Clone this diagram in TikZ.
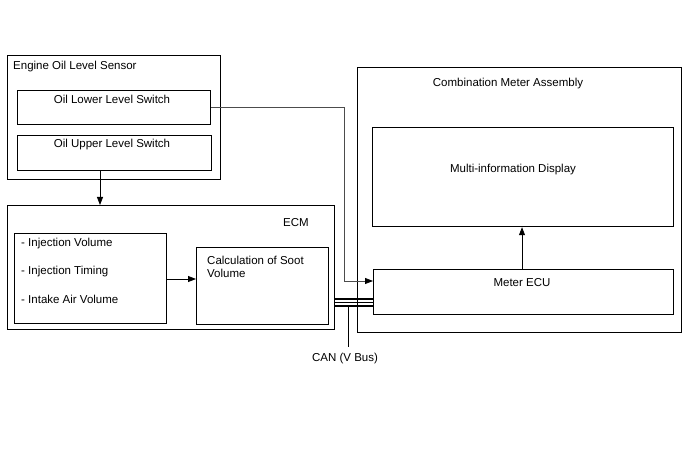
\documentclass[tikz,border=0pt]{standalone}
\usepackage{fontspec}
\setmainfont{Liberation Sans}
\usetikzlibrary{arrows.meta}
\begin{document}
\begin{tikzpicture}[x=1bp,y=-1bp,
  box/.style={draw=black, line width=1.2bp, inner sep=0pt, anchor=north west},
  txt/.style={inner sep=0pt, font=\fontsize{11.5bp}{14bp}\selectfont},
  sig/.style={draw=black!70, line width=0.8bp},
  tip/.style={-{Triangle[length=8bp,width=6bp,fill=black,color=black]}},
  arr/.style={draw=black, line width=0.8bp, tip},
  bus/.style={draw=black, line width=1.2bp}]
\useasboundingbox (0,0) rectangle (688,463);
% Engine oil level sensor
\node[box, minimum width=213bp, minimum height=124bp] (sensor) at (7,55) {};
\node[txt, anchor=west] (sensorl) at (13,67) {Engine Oil Level Sensor};
\node[box, minimum width=193bp, minimum height=34bp] (lower) at (17,90) {};
\node[txt] (lowerl) at (112,99.5) {Oil Lower Level Switch};
\node[box, minimum width=194bp, minimum height=35bp] (upper) at (17,135) {};
\node[txt] (upperl) at (112,144.5) {Oil Upper Level Switch};
% ECM
\node[box, minimum width=327bp, minimum height=124bp] (ecm) at (7,205) {};
\node[txt] (ecml) at (296,223) {ECM};
\node[box, minimum width=152bp, minimum height=90bp] (inputs) at (14,233) {};
\node[txt, anchor=west] (in1) at (21,243.5) {- Injection Volume};
\node[txt, anchor=west] (in2) at (21,272) {- Injection Timing};
\node[txt, anchor=west] (in3) at (21,299.5) {- Intake Air Volume};
\node[box, minimum width=132bp, minimum height=77bp] (calc) at (196,247) {};
\node[txt, anchor=west] (calc1) at (207,260.5) {Calculation of Soot};
\node[txt, anchor=west] (calc2) at (207,273.5) {Volume};
% Combination meter
\node[box, minimum width=324bp, minimum height=265bp] (meter) at (357,67) {};
\node[txt] (meterl) at (508,83.5) {Combination Meter Assembly};
\node[box, minimum width=301bp, minimum height=99bp] (mid) at (372,127) {};
\node[txt] (midl) at (513,169.5) {Multi-information Display};
\node[box, minimum width=300bp, minimum height=45bp] (ecu) at (373,269) {};
\node[txt] (ecul) at (522,282.5) {Meter ECU};
% connectors
\coordinate (c1) at (344,107);
\coordinate (c2) at (344,281);
\draw[sig, tip] (lower.east |- c1) -- (c1) -- (c2) -- (c2 -| ecu.west);
\draw[arr] (upper.south -| 100,0) -- (ecm.north -| 100,0);
\draw[arr] (inputs.east |- 0,279) -- (calc.west |- 0,279);
\draw[arr] (ecu.north -| 522,0) -- (mid.south -| 522,0);
% CAN bus
\draw[bus] (ecm.east |- 0,299) -- (ecu.west |- 0,299);
\draw[bus, line width=0.6bp] (ecm.east |- 0,302.5) -- (ecu.west |- 0,302.5);
\draw[bus] (ecm.east |- 0,306) -- (ecu.west |- 0,306);
\coordinate (cb) at (348,306);
\coordinate (ce) at (348,347);
\node[txt] (can) at (345,358.5) {CAN (V Bus)};
\draw[draw=black, line width=0.9bp] (cb) -- (ce);
\end{tikzpicture}
\end{document}
